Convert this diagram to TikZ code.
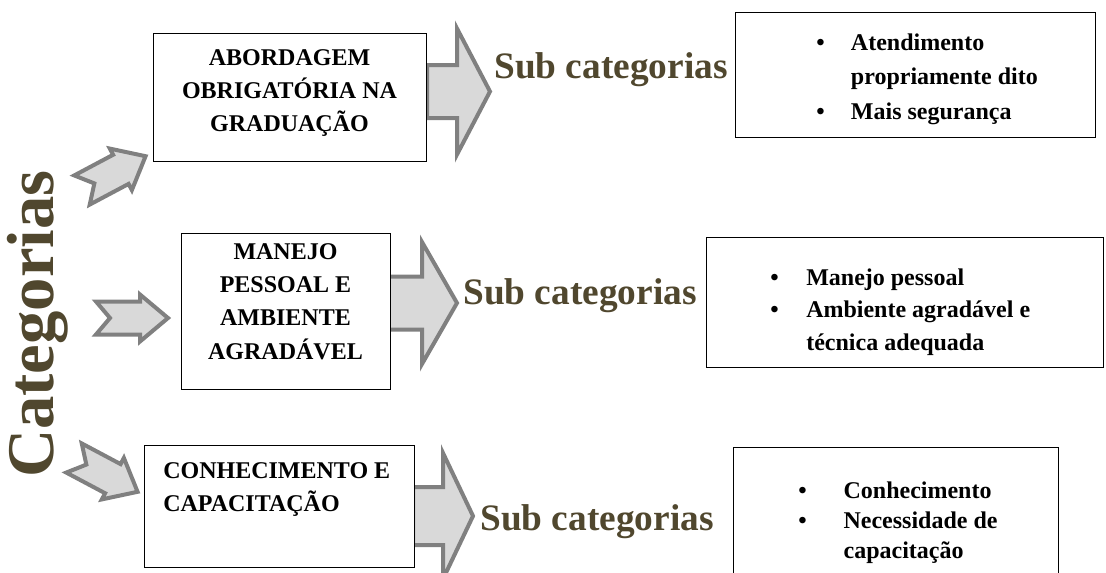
\documentclass[tikz,border=0pt]{standalone}
\usepackage{fontspec}
\setmainfont{Liberation Serif}
\usetikzlibrary{positioning}
\definecolor{catbrown}{RGB}{80,71,46}
\definecolor{arrowfill}{RGB}{217,217,217}
\definecolor{arrowline}{RGB}{128,128,128}
\newdimen\pxu \pxu=0.75pt

\begin{document}
\begin{tikzpicture}[x=0.75pt,y=-0.75pt,line join=miter,
  catbox/.style={draw,line width=0.6pt,fill=white,inner sep=0pt,anchor=north west},
  blockarrow/.style={draw=arrowline,fill=arrowfill,line width=3pt},
  boxtext/.style={font=\bfseries\fontsize{18}{25}\selectfont,align=center,inner sep=0pt},
  listtext/.style={font=\bfseries\fontsize{18}{24.5}\selectfont,inner sep=0pt,anchor=base west},
  subcat/.style={font=\bfseries\fontsize{28}{32}\selectfont,text=catbrown,inner sep=0pt}]
\useasboundingbox (0,0) rectangle (1106,572);
\clip (0,0) rectangle (1106,572);
% --- notched arrows towards the categories
\foreach \x/\y/\a in {82/190/28, 96/318/0, 74/458/-28}
  {\draw[blockarrow,shift={(\x,\y)},rotate=\a] (0,-16.5) -- (44,-16.5) -- (44,-23.5) -- (72,0) -- (44,23.5) -- (44,16.5) -- (0,16.5) -- (14,0) -- cycle;}
% --- block arrows towards the sub categories
\foreach \x/\y/\b/\l/\h/\H in {427/91.5/30/63/26.5/63, 387/303/35/70/26.5/61, 413/516/30/60/29/63}
  {\draw[blockarrow,shift={(\x,\y)}] (0,-\h) -- (\b,-\h) -- (\b,-\H) -- (\l,0) -- (\b,\H) -- (\b,\h) -- (0,\h) -- cycle;}
% --- category boxes
\node[catbox,minimum width=273\pxu,minimum height=128\pxu] (abord) at (153,33) {};
\node[catbox,minimum width=209\pxu,minimum height=156\pxu] (manejo) at (181,233) {};
\node[catbox,minimum width=270\pxu,minimum height=122\pxu] (conhec) at (144,445) {};
\node[boxtext,anchor=north] (abordtxt) at (289.5,49) {ABORDAGEM\\OBRIGATÓRIA NA\\GRADUAÇÃO};
\node[boxtext,anchor=north] (manejotxt) at (285.5,243) {MANEJO\\PESSOAL E\\AMBIENTE\\AGRADÁVEL};
\node[boxtext,anchor=north west,align=left] (conhectxt) at (163,462) {CONHECIMENTO E\\CAPACITAÇÃO};
% --- sub category boxes
\node[catbox,minimum width=360\pxu,minimum height=125\pxu] (subbox1) at (735,12) {};
\node[catbox,minimum width=397\pxu,minimum height=130\pxu] (subbox2) at (706,237) {};
\node[catbox,minimum width=325\pxu,minimum height=140\pxu] (subbox3) at (733,447) {};
\node[listtext,font=\bfseries\fontsize{18}{26}\selectfont] (sublist1) at (816,50) {\begin{tabular}[t]{@{}p{26pt}@{}l@{}}\textbullet & Atendimento\\ & propriamente dito\\ \textbullet & Mais segurança\end{tabular}};
\node[listtext] (sublist2) at (770,285) {\begin{tabular}[t]{@{}p{27pt}@{}l@{}}\textbullet & Manejo pessoal\\ \textbullet & Ambiente agradável e\\ & técnica adequada\end{tabular}};
\node[listtext,font=\bfseries\fontsize{18}{22.5}\selectfont] (sublist3) at (798,498) {\begin{tabular}[t]{@{}p{34pt}@{}l@{}}\textbullet & Conhecimento\\ \textbullet & Necessidade de\\ & capacitação\end{tabular}};
% --- labels
\node[subcat] (sub1) at (611,70) {Sub categorias};
\node[subcat] (sub2) at (580,296) {Sub categorias};
\node[subcat] (sub3) at (597,522) {Sub categorias};
\node[rotate=90,font=\bfseries\fontsize{50}{60}\selectfont,text=catbrown,inner sep=0pt] (cat) at (38,324) {Categorias};
\end{tikzpicture}
\end{document}
